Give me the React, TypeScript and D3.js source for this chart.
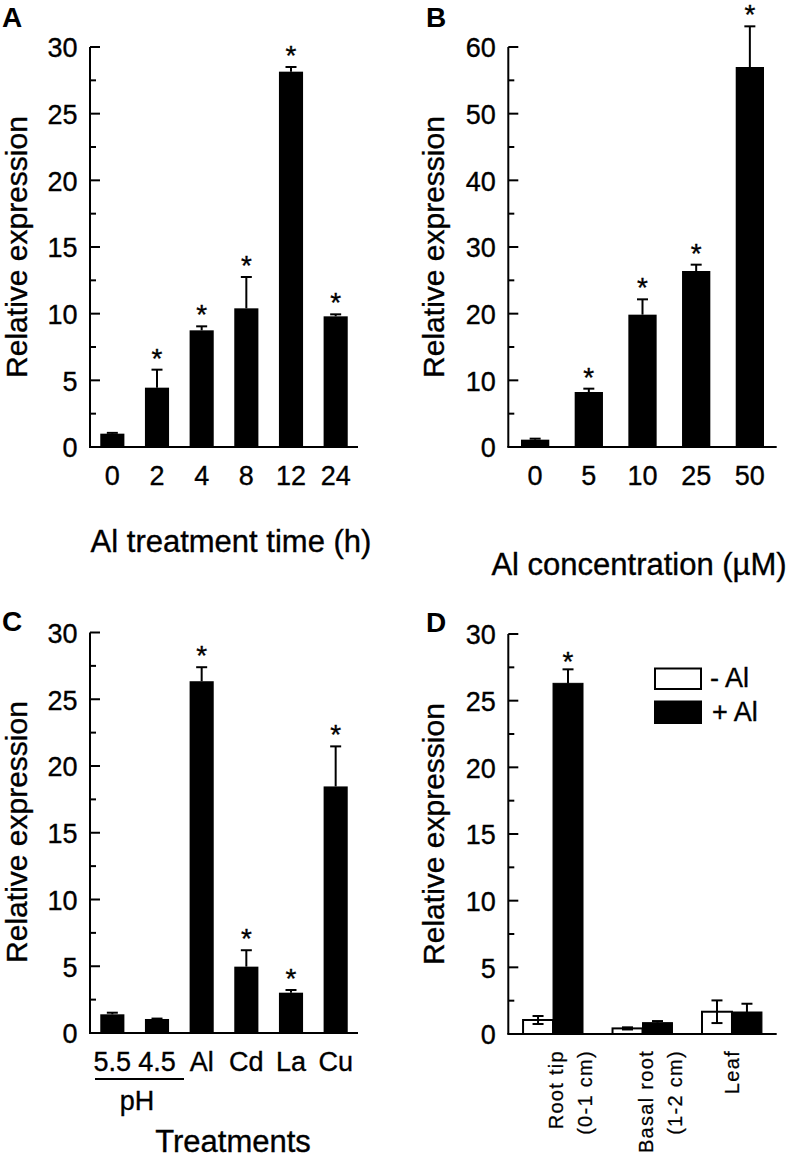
import React from "react";
import * as d3 from "d3";

// ---------- data ----------
const timeCats = ["0", "2", "4", "8", "12", "24"];
const timeMean = [1.0, 4.45, 8.75, 10.4, 28.15, 9.8];
const timeErr = [0.06, 1.35, 0.3, 2.35, 0.35, 0.15];
const timeSig = [false, true, true, true, true, true];

const concCats = ["0", "5", "10", "25", "50"];
const concMean = [1.1, 8.25, 19.85, 26.4, 57.0];
const concErr = [0.15, 0.5, 2.3, 0.95, 6.1];
const concSig = [false, true, true, true, true];

const treatCats = ["5.5", "4.5", "Al", "Cd", "La", "Cu"];
const treatMean = [1.4, 1.05, 26.35, 4.97, 3.02, 18.47];
const treatErr = [0.12, 0.03, 1.05, 1.23, 0.2, 3.0];
const treatSig = [false, false, true, true, true, true];

const tissueCats = ["root", "basal", "leaf"];
const tissueLabels = [["Root tip", "(0-1 cm)"], ["Basal root", "(1-2 cm)"], ["Leaf"]];
const seriesNames = ["- Al", "+ Al"];
const minusAl = [1.05, 0.42, 1.67];
const minusAlErr = [0.3, 0.08, 0.85];
const plusAl = [26.3, 0.85, 1.65];
const plusAlErr = [1.05, 0.12, 0.62];
const plusSig = [true, false, false];

const FONT = "'Liberation Sans', Arial, Helvetica, sans-serif";
const TW = 0.35; // text stroke for slightly heavier glyphs

type AxisProps = { x0: number; x1: number; y: d3.ScaleLinear<number, number>; max: number; step: number };

function Axes({ x0, x1, y, max, step }: AxisProps) {
  const majors = d3.range(0, max + 0.001, step);
  const minors = d3.range(step / 2, max, step);
  return (
    <g>
      <line x1={x0} x2={x0} y1={y(0)} y2={y(max)} stroke="#000" strokeWidth={2} />
      <line x1={x0 - 1} x2={x1} y1={y(0)} y2={y(0)} stroke="#000" strokeWidth={2} />
      {majors.map((t) => (
        <g key={"M" + t}>
          <line x1={x0} x2={x0 + 10} y1={y(t)} y2={y(t)} stroke="#000" strokeWidth={2} />
          <text x={x0 - 12.5} y={y(t)} dy="0.38em" textAnchor="end" fontSize={27} stroke="#000" strokeWidth={TW}>
            {t}
          </text>
        </g>
      ))}
      {minors.map((t) => (
        <line key={"m" + t} x1={x0} x2={x0 + 6} y1={y(t)} y2={y(t)} stroke="#000" strokeWidth={2} />
      ))}
    </g>
  );
}

function ErrUp({ cx, top, errTop }: { cx: number; top: number; errTop: number }) {
  return (
    <g stroke="#000" strokeWidth={2}>
      <line x1={cx} x2={cx} y1={top} y2={errTop} />
      <line x1={cx - 5.5} x2={cx + 5.5} y1={errTop} y2={errTop} />
    </g>
  );
}

function SimplePanel({
  cats, mean, err, sig, x0, x1, yTop, yBot, max, step, pad, labelYOffset,
}: {
  cats: string[]; mean: number[]; err: number[]; sig: boolean[]; x0: number; x1: number;
  yTop: number; yBot: number; max: number; step: number; pad: number; labelYOffset: number;
}) {
  const x = d3.scaleBand<string>().domain(cats).range([x0, x1]).paddingInner(pad).paddingOuter(pad / 2);
  const y = d3.scaleLinear().domain([0, max]).range([yBot, yTop]);
  return (
    <g>
      {cats.map((c, i) => {
        const bx = x(c)!;
        const w = x.bandwidth();
        const cx = bx + w / 2;
        const errTop = y(mean[i] + err[i]);
        return (
          <g key={c}>
            <rect x={bx} y={y(mean[i])} width={w} height={y(0) - y(mean[i])} fill="#000" />
            <ErrUp cx={cx} top={y(mean[i])} errTop={errTop} />
            {sig[i] && (
              <text x={cx} y={errTop - 2} textAnchor="middle" fontSize={28} stroke="#000" strokeWidth={TW}>
                *
              </text>
            )}
            <text x={cx} y={yBot + labelYOffset} textAnchor="middle" fontSize={27} stroke="#000" strokeWidth={TW}>
              {c}
            </text>
          </g>
        );
      })}
      <Axes x0={x0} x1={x1} y={y} max={max} step={step} />
    </g>
  );
}

function TissuePanel() {
  const x0 = 508.3, x1 = 776.7, yTop = 634, yBot = 1034, max = 30;
  const x = d3.scaleBand<string>().domain(tissueCats).range([x0, x1]).paddingInner(0.33).paddingOuter(0.165);
  const xs = d3.scaleBand<string>().domain(seriesNames).range([0, x.bandwidth()]);
  const y = d3.scaleLinear().domain([0, max]).range([yBot, yTop]);
  return (
    <g>
      {tissueCats.map((c, i) => {
        const gx = x(c)!;
        const w = xs.bandwidth();
        const wx = gx + xs(seriesNames[0])!;
        const bx = gx + xs(seriesNames[1])!;
        const wc = wx + w / 2;
        const bc = bx + w / 2;
        const center = gx + x.bandwidth() / 2;
        const lines = tissueLabels[i];
        return (
          <g key={c}>
            <rect x={wx} y={y(minusAl[i])} width={w} height={y(0) - y(minusAl[i])} fill="#fff" stroke="#000" strokeWidth={2} />
            <rect x={bx} y={y(plusAl[i])} width={w} height={y(0) - y(plusAl[i])} fill="#000" stroke="#000" strokeWidth={1} />
            <g stroke="#000" strokeWidth={2}>
              <line x1={wc} x2={wc} y1={y(minusAl[i] - minusAlErr[i])} y2={y(minusAl[i] + minusAlErr[i])} />
              <line x1={wc - 5.5} x2={wc + 5.5} y1={y(minusAl[i] + minusAlErr[i])} y2={y(minusAl[i] + minusAlErr[i])} />
              <line x1={wc - 5.5} x2={wc + 5.5} y1={y(minusAl[i] - minusAlErr[i])} y2={y(minusAl[i] - minusAlErr[i])} />
            </g>
            <ErrUp cx={bc} top={y(plusAl[i])} errTop={y(plusAl[i] + plusAlErr[i])} />
            {plusSig[i] && (
              <text x={bc} y={y(plusAl[i] + plusAlErr[i]) + 2} textAnchor="middle" fontSize={28} stroke="#000" strokeWidth={TW}>
                *
              </text>
            )}
            {lines.map((ln, k) => {
              const bxl = lines.length === 1 ? center + 7 : center + 10 + k * 29;
              return (
                <text
                  key={k}
                  transform={`translate(${bxl},1050) rotate(-90)`}
                  textAnchor="end"
                  fontSize={20}
                  letterSpacing={1.3}
                  stroke="#000"
                  strokeWidth={0.25}
                >
                  {ln}
                </text>
              );
            })}
          </g>
        );
      })}
      <Axes x0={x0} x1={x1} y={y} max={max} step={5} />
      {/* legend */}
      <rect x={655} y={668.5} width={46} height={20.5} fill="#fff" stroke="#000" strokeWidth={2} />
      <rect x={655} y={701.5} width={46} height={21.5} fill="#000" stroke="#000" strokeWidth={2} />
      <text x={710} y={687} fontSize={27} stroke="#000" strokeWidth={TW}>{seriesNames[0]}</text>
      <text x={712} y={720.5} fontSize={27} stroke="#000" strokeWidth={TW}>{seriesNames[1]}</text>
    </g>
  );
}

export default function App() {
  return (
    <svg
      width={789}
      height={1159}
      style={{ position: "absolute", left: 0, top: 0, background: "#fff" }}
      fontFamily={FONT}
    >
      <rect width={789} height={1159} fill="#fff" />
      {/* Panel labels */}
      <text x={2} y={26.5} fontSize={28} fontWeight="bold">A</text>
      <text x={426} y={26.5} fontSize={28} fontWeight="bold">B</text>
      <text x={2} y={630.5} fontSize={28} fontWeight="bold">C</text>
      <text x={426} y={632} fontSize={28} fontWeight="bold">D</text>

      {/* Y titles */}
      <g fontSize={30} stroke="#000" strokeWidth={TW} textAnchor="middle">
        <text transform="translate(27,247) rotate(-90)">Relative expression</text>
        <text transform="translate(444,247) rotate(-90)">Relative expression</text>
        <text transform="translate(27,832) rotate(-90)">Relative expression</text>
        <text transform="translate(444,834) rotate(-90)">Relative expression</text>
      </g>

      <SimplePanel cats={timeCats} mean={timeMean} err={timeErr} sig={timeSig}
        x0={90} x1={358} yTop={47} yBot={447} max={30} step={5} pad={0.46} labelYOffset={38} />
      <text x={231} y={552} textAnchor="middle" fontSize={31} stroke="#000" strokeWidth={TW}>Al treatment time (h)</text>

      <SimplePanel cats={concCats} mean={concMean} err={concErr} sig={concSig}
        x0={508.3} x1={776.7} yTop={47} yBot={447} max={60} step={10} pad={0.473} labelYOffset={37.5} />
      <text x={639} y={575} textAnchor="middle" fontSize={31} stroke="#000" strokeWidth={TW}>Al concentration (µM)</text>

      <SimplePanel cats={treatCats} mean={treatMean} err={treatErr} sig={treatSig}
        x0={90} x1={358} yTop={632.5} yBot={1033} max={30} step={5} pad={0.46} labelYOffset={38} />
      <line x1={95} x2={184} y1={1079} y2={1079} stroke="#000" strokeWidth={2} />
      <text x={137} y={1110} textAnchor="middle" fontSize={27} stroke="#000" strokeWidth={TW}>pH</text>
      <text x={233} y={1152} textAnchor="middle" fontSize={31} stroke="#000" strokeWidth={TW}>Treatments</text>

      <TissuePanel />
    </svg>
  );
}
